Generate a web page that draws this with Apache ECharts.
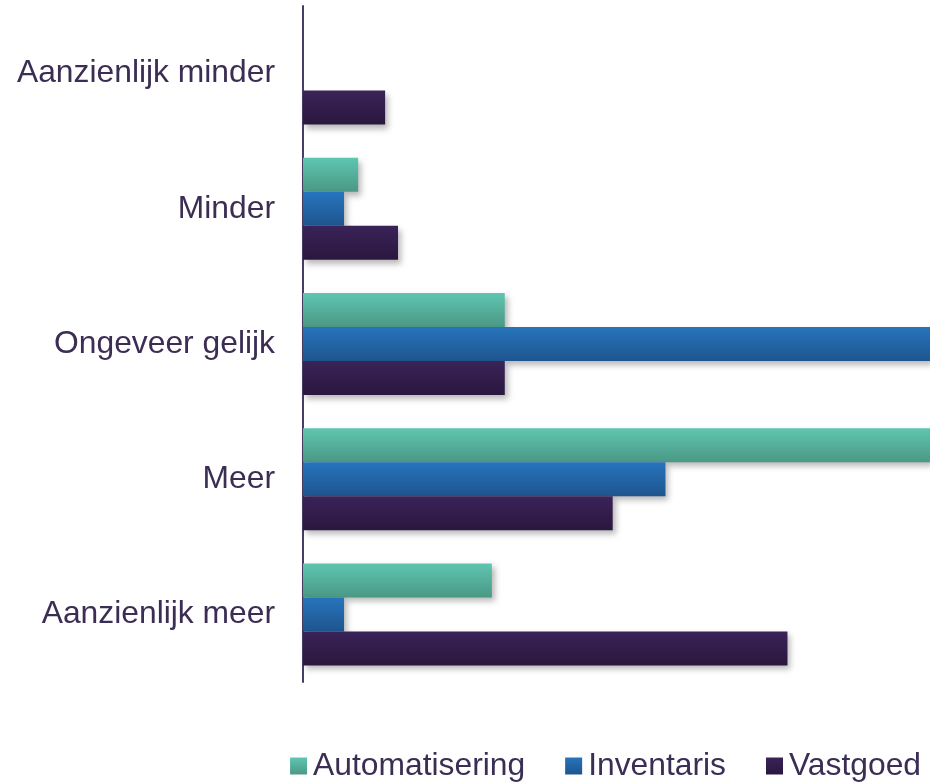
<!DOCTYPE html>
<html>
<head>
<meta charset="utf-8">
<script src="https://cdn.jsdelivr.net/npm/echarts@6/dist/echarts.min.js"></script>
<style>
  html, body { margin: 0; padding: 0; background: #ffffff; }
  #chart { width: 930px; height: 784px; }
</style>
</head>
<body>
<div id="chart"></div>
<script>
// Answer categories, listed top to bottom
const categories = ['Aanzienlijk minder', 'Minder', 'Ongeveer gelijk', 'Meer', 'Aanzienlijk meer'];

// Share of respondents per answer (%)
const automatisering = [0, 4.7, 17.2, 62.0, 16.1];
const inventaris = [0, 3.5, 62.1, 30.9, 3.5];
const vastgoed = [7.0, 8.1, 17.2, 26.4, 41.3];

const seriesNames = ['Automatisering', 'Inventaris', 'Vastgoed'];

const textColor = '#3b2d54';
const fontFamily = 'Liberation Sans, Arial, sans-serif';

function grad(top, bottom) {
  return new echarts.graphic.LinearGradient(0, 0, 0, 1, [
    { offset: 0, color: top },
    { offset: 1, color: bottom }
  ]);
}

const palette = [
  grad('#5fc6b1', '#4a9884'),
  grad('#2774bd', '#1e558e'),
  grad('#3a2358', '#2a173e')
];

function barSeries(name, data, color) {
  return {
    name: name,
    type: 'bar',
    data: data,
    barWidth: 34,
    barGap: '0%',
    itemStyle: {
      color: color,
      shadowColor: 'rgba(0,0,0,0.28)',
      shadowBlur: 6,
      shadowOffsetX: 3,
      shadowOffsetY: 4
    }
  };
}

const chart = echarts.init(document.getElementById('chart'), null, { renderer: 'canvas' });

chart.setOption({
  animation: false,
  backgroundColor: '#ffffff',
  grid: { left: 303, right: 0, top: 6, height: 676, containLabel: false },
  xAxis: {
    type: 'value',
    min: 0,
    max: 53.45,
    show: false
  },
  yAxis: {
    type: 'category',
    data: categories,
    inverse: true,
    axisLine: { show: true, lineStyle: { color: '#4a3c68', width: 2 } },
    axisTick: { show: false },
    axisLabel: {
      color: textColor,
      fontFamily: fontFamily,
      fontSize: 31.8,
      margin: 28,
      padding: [5, 0, 0, 0]
    }
  },
  legend: {
    bottom: -3,
    right: 4,
    itemWidth: 17,
    itemHeight: 17,
    itemGap: 40,
    icon: 'rect',
    data: seriesNames,
    textStyle: {
      color: textColor,
      fontFamily: fontFamily,
      fontSize: 31.8,
      padding: [0, 0, 0, 1]
    }
  },
  series: [
    barSeries(seriesNames[0], automatisering, palette[0]),
    barSeries(seriesNames[1], inventaris, palette[1]),
    barSeries(seriesNames[2], vastgoed, palette[2])
  ]
});
</script>
</body>
</html>
